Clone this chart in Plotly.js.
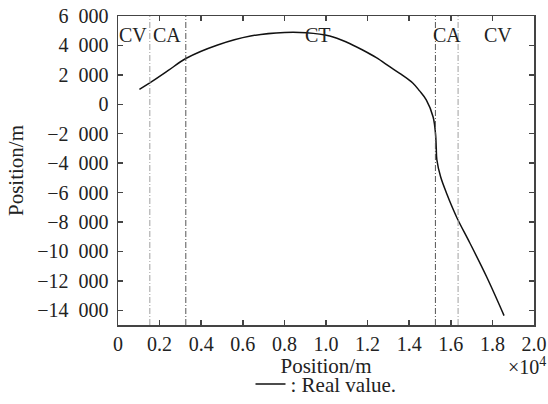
<!DOCTYPE html>
<html>
<head>
<meta charset="utf-8">
<script src="https://cdn.plot.ly/plotly-3.0.1.min.js"></script>
<style>
  html, body { margin: 0; padding: 0; background: #fff; }
  #chart { width: 548px; height: 404px; }
</style>
</head>
<body>
<div id="chart"></div>
<script>
// Trajectory samples, both coordinates in metres
const posX = [1030, 1530, 2400, 3260, 4790, 6370, 8010, 9050, 10180, 11000, 11760, 12420, 13060, 13620, 14170,
              14500, 14820, 15150, 15270, 15300, 15330, 15510, 15825, 16040, 16340, 16910, 17710, 18560];
const posY = [1020, 1450, 2280, 3110, 4030, 4640, 4880, 4860, 4640, 4220, 3690, 3170, 2560, 2030, 1450,
              910, 300, -860, -2080, -2960, -3770, -4930, -6150, -6900, -7850, -9410, -11690, -14360];

// Phase boundaries (m) and the phase names between them
const boundaryX = [1530, 3260, 15260, 16350];
const phaseNames = ['CV', 'CA', 'CT', 'CA', 'CV'];
const phaseX = [700, 2350, 9620, 15800, 18250];

// Axis ticks
const xTickVals = [0, 2000, 4000, 6000, 8000, 10000, 12000, 14000, 16000, 18000, 20000];
const xTickText = ['0', '0.2', '0.4', '0.6', '0.8', '1.0', '1.2', '1.4', '1.6', '1.8', '2.0'];
const yTickVals = [6000, 4000, 2000, 0, -2000, -4000, -6000, -8000, -10000, -12000, -14000];
const yTickText = ['6\u2002000', '4\u2002000', '2\u2002000', '0', '\u22122\u2002000', '\u22124\u2002000',
                   '\u22126\u2002000', '\u22128\u2002000', '\u221210\u2002000', '\u221212\u2002000', '\u221214\u2002000'];

const serif = '"Liberation Serif", "Times New Roman", serif';
const ink = '#222';
const boundaryColors = ['#a0a0a0', '#555555', '#555555', '#a0a0a0'];

const trace = {
  x: posX,
  y: posY,
  type: 'scatter',
  mode: 'lines',
  name: ': Real value.',
  line: { color: '#111', width: 1.5, shape: 'spline', smoothing: 1 }
};

const shapes = boundaryX.map((bx, i) => ({
  type: 'line', xref: 'x', yref: 'paper',
  x0: bx, x1: bx, y0: 0, y1: 1,
  line: { color: boundaryColors[i], width: 1, dash: '6px,2px,1px,2px' }
}));

const annotations = phaseNames.map((name, i) => ({
  text: name, xref: 'x', yref: 'paper', x: phaseX[i], y: 0.938,
  xanchor: 'center', yanchor: 'middle', showarrow: false,
  font: { family: serif, size: 20, color: ink }
}));
annotations.push({
  text: '\u00d710<sup>4</sup>', xref: 'paper', yref: 'paper',
  x: 1.033, y: -0.132, xanchor: 'right', yanchor: 'middle', showarrow: false,
  font: { family: serif, size: 20, color: ink }
});

const axisCommon = {
  showgrid: false, zeroline: false,
  showline: true, linecolor: '#444', linewidth: 1.5, mirror: 'ticks',
  ticks: 'inside', ticklen: 5, tickwidth: 1.5, tickcolor: '#444',
  tickfont: { family: serif, size: 20, color: ink }
};

const layout = {
  width: 548, height: 404,
  margin: { l: 118, r: 14, t: 16, b: 78.5, autoexpand: false },
  paper_bgcolor: '#fff', plot_bgcolor: '#fff',
  font: { family: serif, color: ink },
  xaxis: Object.assign({}, axisCommon, {
    range: [0, 20000], tickmode: 'array', tickvals: xTickVals, ticktext: xTickText,
    ticklabelstandoff: 0,
    title: { text: 'Position/m', font: { family: serif, size: 21, color: ink }, standoff: 3 }
  }),
  yaxis: Object.assign({}, axisCommon, {
    range: [-15000, 6000], tickmode: 'array', tickvals: yTickVals, ticktext: yTickText,
    ticklabelstandoff: 4,
    title: { text: 'Position/m', font: { family: serif, size: 21, color: ink }, standoff: 8 }
  }),
  showlegend: true,
  legend: {
    orientation: 'h', x: 0.5, xanchor: 'center', y: -0.192, yanchor: 'middle',
    font: { family: serif, size: 21, color: ink }, bgcolor: 'rgba(0,0,0,0)'
  },
  shapes: shapes,
  annotations: annotations
};

Plotly.newPlot('chart', [trace], layout, { displayModeBar: false, staticPlot: true });
</script>
</body>
</html>
